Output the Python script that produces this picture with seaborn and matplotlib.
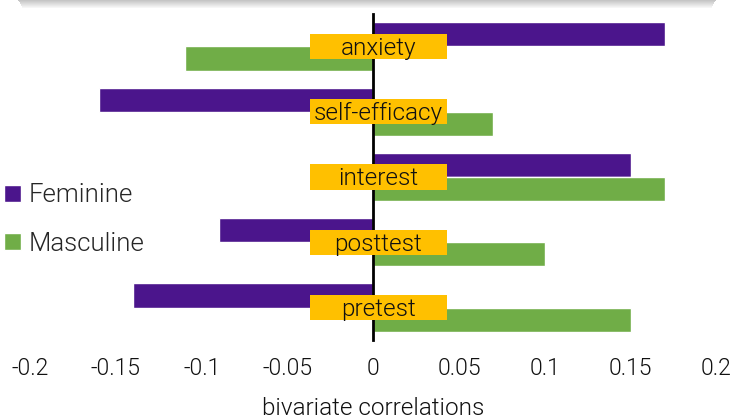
import pandas as pd
import matplotlib.pyplot as plt
import seaborn as sns
from matplotlib.patches import Rectangle, Patch

# data
categories = ['anxiety', 'self-efficacy', 'interest', 'posttest', 'pretest']
feminine = [0.17, -0.16, 0.15, -0.09, -0.14]
masculine = [-0.11, 0.07, 0.17, 0.10, 0.15]
series = ['Feminine', 'Masculine']
xticks = [-0.2, -0.15, -0.1, -0.05, 0, 0.05, 0.1, 0.15, 0.2]
xtick_labels = ['-0.2', '-0.15', '-0.1', '-0.05', '0', '0.05', '0.1', '0.15', '0.2']

purple = '#4B158C'
green = '#70AD47'
orange = '#FFC000'

df = pd.DataFrame({
    'category': categories * 2,
    'value': feminine + masculine,
    'gender': [series[0]] * len(categories) + [series[1]] * len(categories),
})

sns.set_style('white')
plt.rcParams['font.family'] = ['Roboto', 'DejaVu Sans']
plt.rcParams['font.weight'] = 300

fig = plt.figure(figsize=(7.34, 4.19), dpi=100)
ax = fig.add_axes([0.041, 0.188, 0.935, 0.779])

sns.barplot(data=df, y='category', x='value', hue='gender', order=categories,
            hue_order=series, palette=[purple, green], width=0.74,
            orient='h', ax=ax, legend=False, saturation=1)

ax.set_xlim(-0.2, 0.2)
ax.set_ylim(len(categories) - 0.5, -0.5)
ax.set_xticks(xticks)
ax.set_xticklabels(xtick_labels, fontsize=16.5, color='#111111', fontweight=300)
ax.tick_params(axis='x', length=0, pad=12)
ax.set_xlabel('bivariate correlations', fontsize=17.5, color='#111111',
              fontweight=300, labelpad=12)
ax.set_ylabel('')

# y axis through zero with ticks between the categories
for s in ['top', 'right', 'bottom']:
    ax.spines[s].set_visible(False)
ax.spines['left'].set_position(('data', 0))
ax.spines['left'].set_color('black')
ax.spines['left'].set_linewidth(2)
ax.set_yticks([i - 0.5 for i in range(len(categories) + 1)])
ax.set_yticklabels([])
ax.tick_params(axis='y', direction='in', length=9, width=2, color='black')

# orange label boxes
box_w = 0.0802
box_h = 0.39
for i, cat in enumerate(categories):
    ax.add_patch(Rectangle((0.003 - box_w / 2, i - box_h / 2), box_w, box_h,
                           facecolor=orange, edgecolor='none', zorder=5))
    ax.text(0.003, i + 0.03, cat, ha='center', va='center', fontsize=17.5,
            color='#111111', fontweight=300, zorder=6)

# legend
handles = [Patch(facecolor=purple, label='Feminine'),
           Patch(facecolor=green, label='Masculine')]
fig.legend(handles=handles, loc='center left', bbox_to_anchor=(0.006, 0.476),
           frameon=False, prop={'size': 18.5, 'weight': 300}, handlelength=0.65,
           handleheight=0.65, handletextpad=0.3, labelspacing=0.95,
           borderaxespad=0, borderpad=0)

# shadow strip at the top
for k in range(8):
    fig.add_artist(Rectangle((0.025 + k * 0.0008, 1 - (k + 1) / 419), 0.95 - k * 0.0016, 1 / 419,
                             transform=fig.transFigure, facecolor='gray',
                             alpha=0.45 - k * 0.055, edgecolor='none'))

fig.savefig('out.png', dpi=100)
